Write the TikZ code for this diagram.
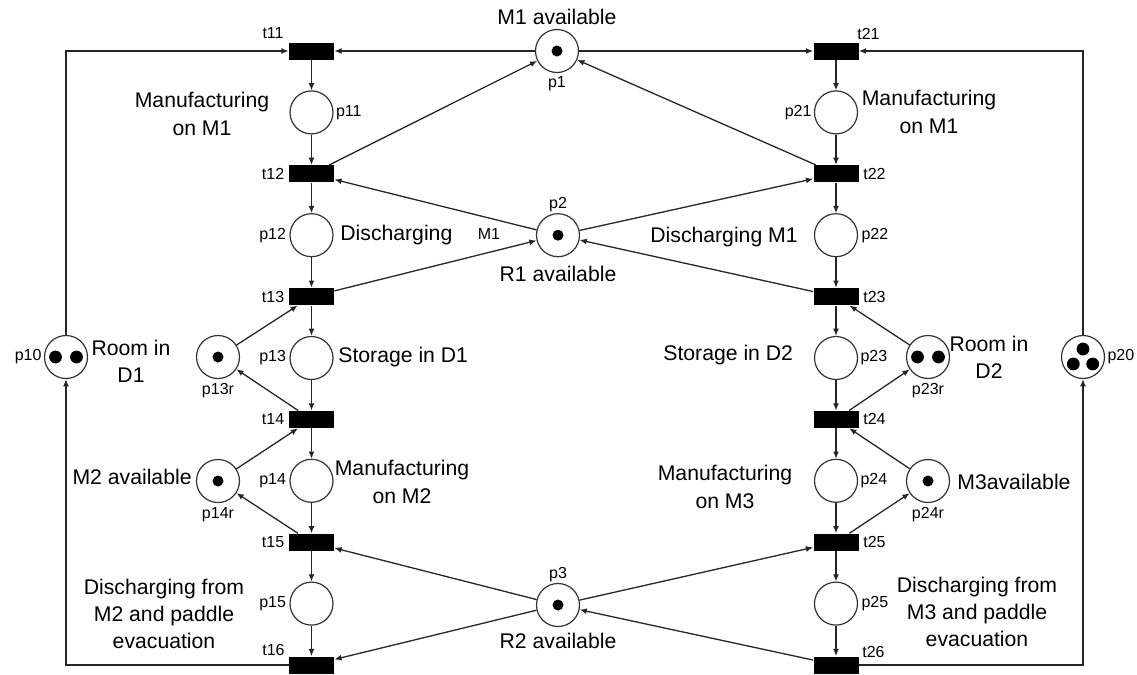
\documentclass[tikz,border=0pt]{standalone}
\usepackage{fontspec}
\setmainfont{Liberation Sans}
\usetikzlibrary{arrows.meta, positioning}
\tikzset{
  placeNode/.style={
    circle, draw=black!80, line width=0.6pt,
    minimum size=21.5pt, inner sep=0pt
  },
  transBox/.style={
    rectangle, fill=black,
    minimum width=22.5pt, minimum height=8.5pt, inner sep=0pt
  },
  arr/.style={
    -{Latex[length=3.6pt,width=3pt]}, line width=0.65pt, color=black!85
  },
  tagLbl/.style={
    font=\fontsize{8}{9.6}\selectfont, inner sep=0pt
  },
  descLbl/.style={
    font=\fontsize{10.6}{13.6}\selectfont, align=center, inner sep=0pt
  },
  tokenFill/.style={fill=black}
}

\begin{document}
\begin{tikzpicture}[x=0.5pt, y=-0.5pt]
  \useasboundingbox (0,0) rectangle (1137,675);

  % shared resources
  \node[placeNode] (p1) at (557,51) {};
  \node[placeNode] (p2) at (558,235.2) {};
  \node[placeNode] (p3) at (558,605) {};

  % left column
  \node[transBox] (t11) at (311.5,51) {};
  \node[placeNode] (p11) at (311.5,112.4) {};
  \node[transBox] (t12) at (311.5,173.8) {};
  \node[placeNode] (p12) at (311.5,235.2) {};
  \node[transBox] (t13) at (311.5,296.6) {};
  \node[placeNode] (p13) at (311.5,358) {};
  \node[transBox] (t14) at (311.5,419.4) {};
  \node[placeNode] (p14) at (311.5,480.8) {};
  \node[transBox] (t15) at (311.5,542.2) {};
  \node[placeNode] (p15) at (311.5,603.6) {};
  \node[transBox] (t16) at (311.5,665) {};
  \node[placeNode] (p10) at (66,357) {};
  \node[placeNode] (p13r) at (218,357) {};
  \node[placeNode] (p14r) at (218,481) {};

  % right column
  \node[transBox] (t21) at (836,51) {};
  \node[placeNode] (p21) at (836,112.4) {};
  \node[transBox] (t22) at (836,173.8) {};
  \node[placeNode] (p22) at (836,235.2) {};
  \node[transBox] (t23) at (836,296.6) {};
  \node[placeNode] (p23) at (836,358) {};
  \node[transBox] (t24) at (836,419.4) {};
  \node[placeNode] (p24) at (836,480.8) {};
  \node[transBox] (t25) at (836,542.2) {};
  \node[placeNode] (p25) at (836,603.6) {};
  \node[transBox] (t26) at (836,665) {};
  \node[placeNode] (p20) at (1083,357) {};
  \node[placeNode] (p23r) at (928,357) {};
  \node[placeNode] (p24r) at (928,481) {};

  % tokens
  \fill[tokenFill] (p1) circle (2.75pt);
  \fill[tokenFill] (p2) circle (2.75pt);
  \fill[tokenFill] (p3) circle (2.75pt);
  \fill[tokenFill] (p13r) circle (2.75pt);
  \fill[tokenFill] (p14r) circle (2.75pt);
  \fill[tokenFill] (p24r) circle (2.75pt);
  \fill[tokenFill] ([xshift=-5.25pt]p10.center) circle (3.2pt);
  \fill[tokenFill] ([xshift=5.25pt]p10.center) circle (3.2pt);
  \fill[tokenFill] ([xshift=-5.25pt]p23r.center) circle (3.2pt);
  \fill[tokenFill] ([xshift=5.25pt]p23r.center) circle (3.2pt);
  \fill[tokenFill] ([yshift=4pt]p20.center) circle (3.2pt);
  \fill[tokenFill] ([xshift=-4.85pt,yshift=-3.5pt]p20.center) circle (3.2pt);
  \fill[tokenFill] ([xshift=4.85pt,yshift=-3.5pt]p20.center) circle (3.2pt);

  % left process flow
  \draw[arr] (t11) -- (p11);
  \draw[arr] (p11) -- (t12);
  \draw[arr] (t12) -- (p12);
  \draw[arr] (p12) -- (t13);
  \draw[arr] (t13) -- (p13);
  \draw[arr] (p13) -- (t14);
  \draw[arr] (t14) -- (p14);
  \draw[arr] (p14) -- (t15);
  \draw[arr] (t15) -- (p15);
  \draw[arr] (p15) -- (t16);
  \draw[arr] (t16.west) -| (p10.south);
  \draw[arr] (p10.north) |- (t11.west);

  % right process flow
  \draw[arr] (t21) -- (p21);
  \draw[arr] (p21) -- (t22);
  \draw[arr] (t22) -- (p22);
  \draw[arr] (p22) -- (t23);
  \draw[arr] (t23) -- (p23);
  \draw[arr] (p23) -- (t24);
  \draw[arr] (t24) -- (p24);
  \draw[arr] (p24) -- (t25);
  \draw[arr] (t25) -- (p25);
  \draw[arr] (p25) -- (t26);
  \draw[arr] (t26.east) -| (p20.south);
  \draw[arr] (p20.north) |- (t21.east);

  % machine M1 and robot R1
  \draw[arr] (p1) -- (t11);
  \draw[arr] (p1) -- (t21);
  \draw[arr] (t12) -- (p1);
  \draw[arr] (t22) -- (p1);
  \draw[arr] (p2) -- (t12);
  \draw[arr] (p2) -- (t22);
  \draw[arr] (t13) -- (p2);
  \draw[arr] (t23) -- (p2);

  % buffers and machines M2, M3
  \draw[arr] (p13r) -- (t13);
  \draw[arr] (t14) -- (p13r);
  \draw[arr] (p14r) -- (t14);
  \draw[arr] (t15) -- (p14r);
  \draw[arr] (p23r) -- (t23);
  \draw[arr] (t24) -- (p23r);
  \draw[arr] (p24r) -- (t24);
  \draw[arr] (t25) -- (p24r);

  % robot R2
  \draw[arr] (p3) -- (t15);
  \draw[arr] (p3) -- (t16);
  \draw[arr] (p3) -- (t25);
  \draw[arr] (t26) -- (p3);

  % transition names
  \node[tagLbl, anchor=east] (lt11) at (284,33) {t11};
  \node[tagLbl, left=2pt of t12] (lt12) {t12};
  \node[tagLbl, left=2pt of t13] (lt13) {t13};
  \node[tagLbl, left=2pt of t14] (lt14) {t14};
  \node[tagLbl, left=2pt of t15] (lt15) {t15};
  \node[tagLbl, anchor=east] (lt16) at (285,650) {t16};
  \node[tagLbl, anchor=west] (lt21) at (857,34) {t21};
  \node[tagLbl, right=2pt of t22] (lt22) {t22};
  \node[tagLbl, right=2pt of t23] (lt23) {t23};
  \node[tagLbl, right=2pt of t24] (lt24) {t24};
  \node[tagLbl, right=2pt of t25] (lt25) {t25};
  \node[tagLbl, anchor=west] (lt26) at (862,652) {t26};

  % place names
  \node[tagLbl, below=1.5pt of p1] (lp1) {p1};
  \node[tagLbl, above=0.5pt of p2] (lp2) {p2};
  \node[tagLbl, above=0.5pt of p3] (lp3) {p3};
  \node[tagLbl, left=1pt of p10] (lp10) {p10};
  \node[tagLbl, right=1pt of p11] (lp11) {p11};
  \node[tagLbl, left=1.5pt of p12] (lp12) {p12};
  \node[tagLbl, left=1.5pt of p13] (lp13) {p13};
  \node[tagLbl, left=1.5pt of p14] (lp14) {p14};
  \node[tagLbl, left=1.5pt of p15] (lp15) {p15};
  \node[tagLbl, below=2pt of p13r] (lp13r) {p13r};
  \node[tagLbl, below=2pt of p14r] (lp14r) {p14r};
  \node[tagLbl, right=1pt of p20] (lp20) {p20};
  \node[tagLbl, left=1pt of p21] (lp21) {p21};
  \node[tagLbl, right=1.5pt of p22] (lp22) {p22};
  \node[tagLbl, right=1pt of p23] (lp23) {p23};
  \node[tagLbl, right=1pt of p24] (lp24) {p24};
  \node[tagLbl, right=1.5pt of p25] (lp25) {p25};
  \node[tagLbl, below=2pt of p23r] (lp23r) {p23r};
  \node[tagLbl, below=2pt of p24r] (lp24r) {p24r};
  \node[tagLbl] (wM1) at (489,234) {M1};

  % descriptions
  \node[descLbl, above=2pt of p1] (dM1) {M1 available};
  \node[descLbl, below=4pt of p2] (dR1) {R1 available};
  \node[descLbl, below=3pt of p3] (dR2) {R2 available};
  \node[descLbl] (d11) at (202,114) {Manufacturing\\on M1};
  \node[descLbl] (d21) at (929,112) {Manufacturing\\on M1};
  \node[descLbl, anchor=west] (d12) at (340,235) {Discharging};
  \node[descLbl, anchor=west] (d22) at (650,237) {Discharging M1};
  \node[descLbl, anchor=west] (d13) at (338,357) {Storage in D1};
  \node[descLbl, anchor=west] (d23) at (663,355) {Storage in D2};
  \node[descLbl] (d14) at (402,482) {Manufacturing\\on M2};
  \node[descLbl] (d24) at (725,487) {Manufacturing\\on M3};
  \node[descLbl] (d15) at (164,614) {Discharging from\\M2 and paddle\\evacuation};
  \node[descLbl] (d25) at (977,612) {Discharging from\\M3 and paddle\\evacuation};
  \node[descLbl] (d10) at (131,361) {Room in\\D1};
  \node[descLbl] (d23r) at (989,357) {Room in\\D2};
  \node[descLbl, anchor=east] (d14r) at (192,477) {M2 available};
  \node[descLbl, anchor=west] (d24r) at (957,482) {M3available};

\end{tikzpicture}
\end{document}
